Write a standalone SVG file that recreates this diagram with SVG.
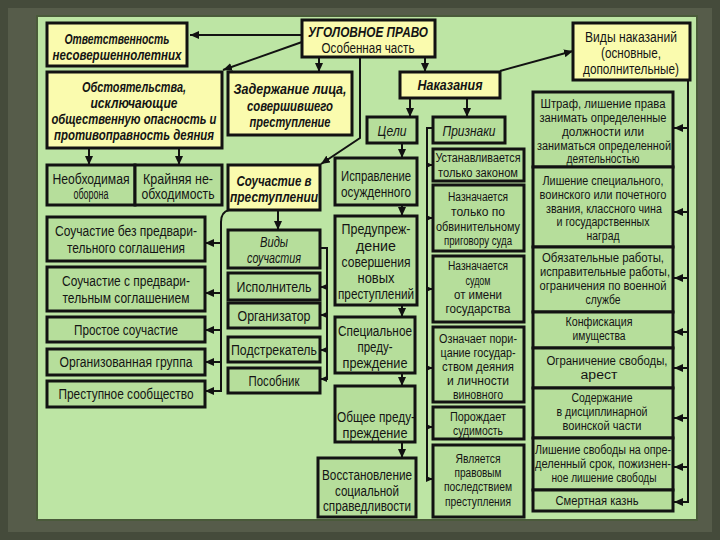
<svg xmlns="http://www.w3.org/2000/svg" width="720" height="540" viewBox="0 0 720 540">
<defs>
<marker id="ah" markerWidth="9" markerHeight="8" refX="9" refY="4" orient="auto" markerUnits="userSpaceOnUse"><path d="M0,0 L9,4 L0,8 z" fill="#111"/></marker>
<marker id="as" markerWidth="7" markerHeight="6" refX="7" refY="3" orient="auto" markerUnits="userSpaceOnUse"><path d="M0,0 L7,3 L0,6 z" fill="#111"/></marker>
<style>
.bg{fill:#565c4a}
.frame{fill:none;stroke:#454b3b;stroke-width:8}
.panel{fill:#bde5a4;stroke:#4a5a3a;stroke-width:2}
.y{fill:#fafbae;stroke:#121212;stroke-width:3}
.g{fill:#b6de9b;stroke:#121212;stroke-width:3}
text{font-family:"Liberation Sans",Arial,sans-serif;font-size:14px;fill:#141414;text-anchor:middle}
.b{font-weight:bold;font-style:italic;font-size:14px}
.i{font-style:italic;font-size:15px}
.s{font-size:12px}
.c{fill:none;stroke:#121212;stroke-width:2}
.ca{marker-end:url(#ah)}
.cs{marker-end:url(#as)}
</style>
</defs>
<rect class="bg" x="0" y="0" width="720" height="540"/>
<rect class="frame" x="4" y="4" width="712" height="532"/>
<rect class="panel" x="37" y="16" width="660" height="504"/>

<g id="connectors">
<path class="c ca" d="M302,35 L190,35"/>
<path class="c ca" d="M302,42 L223,70"/>
<path class="c ca" d="M319,57 L319,72"/>
<path class="c ca" d="M360,57 L360,138 L321,164"/>
<path class="c ca" d="M425,57 L425,72"/>
<path class="c ca" d="M500,71 L573,51"/>
<path class="c ca" d="M410,98 L410,117"/>
<path class="c ca" d="M467,98 L467,117"/>
<path class="c ca" d="M402,143 L402,158"/>
<path class="c ca" d="M402,205 L402,216"/>
<path class="c ca" d="M402,305 L402,317"/>
<path class="c ca" d="M402,373 L402,386"/>
<path class="c ca" d="M402,442 L402,458"/>
<path class="c ca" d="M89,148 L89,165"/>
<path class="c ca" d="M179,148 L179,165"/>
<path class="c ca" d="M278,210 L278,230"/>
<path class="c" d="M433,128 L427,128 L427,479"/>
<path class="c cs" d="M427,165 L433,165"/>
<path class="c cs" d="M427,218 L433,218"/>
<path class="c cs" d="M427,289 L433,289"/>
<path class="c cs" d="M427,368 L433,368"/>
<path class="c cs" d="M427,427 L433,427"/>
<path class="c cs" d="M426,479 L433,479"/>
<path class="c" d="M229,210 Q221,212 221,222 L221,391"/>
<path class="c ca" d="M221,243 L205,243"/>
<path class="c ca" d="M221,293 L205,293"/>
<path class="c ca" d="M221,330 L205,330"/>
<path class="c ca" d="M221,362 L205,362"/>
<path class="c ca" d="M222,391 L205,391"/>
<path class="c" d="M320,248 L327,248 L327,379"/>
<path class="c cs" d="M327,287 L320,287"/>
<path class="c cs" d="M327,315 L320,315"/>
<path class="c cs" d="M327,350 L320,350"/>
<path class="c cs" d="M328,379 L320,379"/>
<path class="c" d="M688,80 L688,502"/>
<path class="c ca" d="M688,128 L674,128"/>
<path class="c ca" d="M688,212 L674,212"/>
<path class="c ca" d="M688,278 L674,278"/>
<path class="c ca" d="M688,332 L674,332"/>
<path class="c ca" d="M688,368 L674,368"/>
<path class="c ca" d="M688,418 L674,418"/>
<path class="c ca" d="M688,467 L674,467"/>
<path class="c ca" d="M689,502 L674,502"/>
</g>

<g id="n-otv"><rect class="y" x="47" y="23" width="140" height="43"/>
<text class="b" x="117" y="44" textLength="105" lengthAdjust="spacingAndGlyphs">Ответственность</text>
<text class="b" x="117" y="60" textLength="129" lengthAdjust="spacingAndGlyphs">несовершеннолетних</text></g>

<g id="n-ugol"><rect class="y" x="302" y="20" width="133" height="37"/>
<text class="b" x="368" y="37" textLength="120" lengthAdjust="spacingAndGlyphs">УГОЛОВНОЕ ПРАВО</text>
<text x="368" y="53" textLength="93" lengthAdjust="spacingAndGlyphs">Особенная часть</text></g>

<g id="n-vidy-nak"><rect class="y" x="573" y="23" width="117" height="57"/>
<text x="631" y="42" textLength="92" lengthAdjust="spacingAndGlyphs">Виды наказаний</text>
<text x="631" y="58" textLength="60" lengthAdjust="spacingAndGlyphs">(основные,</text>
<text x="631" y="74" textLength="96" lengthAdjust="spacingAndGlyphs">дополнительные)</text></g>

<g id="n-obst"><rect class="y" x="47" y="72" width="175" height="76"/>
<text class="b" x="134" y="92" textLength="104" lengthAdjust="spacingAndGlyphs">Обстоятельства,</text>
<text class="b" x="134" y="108" textLength="87" lengthAdjust="spacingAndGlyphs">исключающие</text>
<text class="b" x="134" y="124" textLength="165" lengthAdjust="spacingAndGlyphs">общественную опасность и</text>
<text class="b" x="134" y="140" textLength="160" lengthAdjust="spacingAndGlyphs">противоправность деяния</text></g>

<g id="n-zad"><rect class="y" x="228" y="72" width="124" height="63"/>
<text class="b" x="290" y="94" textLength="113" lengthAdjust="spacingAndGlyphs">Задержание лица,</text>
<text class="b" x="290" y="111" textLength="86" lengthAdjust="spacingAndGlyphs">совершившего</text>
<text class="b" x="290" y="127" textLength="81" lengthAdjust="spacingAndGlyphs">преступление</text></g>

<g id="n-nak"><rect class="y" x="400" y="72" width="100" height="26"/>
<text class="b" x="450" y="90" textLength="65" lengthAdjust="spacingAndGlyphs">Наказания</text></g>

<g id="n-celi"><rect class="g" x="367" y="117" width="50" height="26"/>
<text class="i" x="392" y="136" textLength="29" lengthAdjust="spacingAndGlyphs">Цели</text></g>

<g id="n-prizn"><rect class="g" x="433" y="117" width="72" height="26"/>
<text class="i" x="469" y="136" textLength="53" lengthAdjust="spacingAndGlyphs">Признаки</text></g>

<g id="n-neobh"><rect class="g" x="47" y="165" width="88" height="40"/>
<text x="91" y="184" textLength="77" lengthAdjust="spacingAndGlyphs">Необходимая</text>
<text x="91" y="199" textLength="35" lengthAdjust="spacingAndGlyphs">оборона</text></g>

<g id="n-krain"><rect class="g" x="135" y="165" width="87" height="40"/>
<text x="178" y="184" textLength="70" lengthAdjust="spacingAndGlyphs">Крайняя не-</text>
<text x="178" y="199" textLength="73" lengthAdjust="spacingAndGlyphs">обходимость</text></g>

<g id="n-souch"><rect class="y" x="228" y="165" width="92" height="45"/>
<text class="b" x="274" y="186" textLength="75" lengthAdjust="spacingAndGlyphs">Соучастие в</text>
<text class="b" x="274" y="202" textLength="88" lengthAdjust="spacingAndGlyphs">преступлении</text></g>

<g id="n-ispr"><rect class="g" x="335" y="158" width="82" height="47"/>
<text x="376" y="181" textLength="70" lengthAdjust="spacingAndGlyphs">Исправление</text>
<text x="376" y="197" textLength="70" lengthAdjust="spacingAndGlyphs">осужденного</text></g>

<g id="n-preduprezh"><rect class="g" x="335" y="216" width="82" height="89"/>
<text x="376" y="234" textLength="69" lengthAdjust="spacingAndGlyphs">Предупреж-</text>
<text x="376" y="251" textLength="40" lengthAdjust="spacingAndGlyphs">дение</text>
<text x="376" y="267" textLength="69" lengthAdjust="spacingAndGlyphs">совершения</text>
<text x="376" y="283" textLength="37" lengthAdjust="spacingAndGlyphs">новых</text>
<text x="376" y="299" textLength="76" lengthAdjust="spacingAndGlyphs">преступлений</text></g>

<g id="n-vidy-souch"><rect class="g" x="228" y="230" width="92" height="38"/>
<text class="i" x="274" y="247" textLength="28" lengthAdjust="spacingAndGlyphs">Виды</text>
<text class="i" x="274" y="263" textLength="54" lengthAdjust="spacingAndGlyphs">соучастия</text></g>

<g id="n-ispoln"><rect class="g" x="228" y="273" width="92" height="27"/>
<text x="274" y="292" textLength="75" lengthAdjust="spacingAndGlyphs">Исполнитель</text></g>

<g id="n-organiz"><rect class="g" x="228" y="303" width="92" height="25"/>
<text x="274" y="321" textLength="73" lengthAdjust="spacingAndGlyphs">Организатор</text></g>

<g id="n-podstr"><rect class="g" x="228" y="337" width="92" height="25"/>
<text x="274" y="355" textLength="86" lengthAdjust="spacingAndGlyphs">Подстрекатель</text></g>

<g id="n-posob"><rect class="g" x="228" y="368" width="92" height="25"/>
<text x="274" y="386" textLength="51" lengthAdjust="spacingAndGlyphs">Пособник</text></g>

<g id="n-bez"><rect class="g" x="47" y="217" width="158" height="44"/>
<text x="126" y="236" textLength="142" lengthAdjust="spacingAndGlyphs">Соучастие без предвари-</text>
<text x="126" y="253" textLength="118" lengthAdjust="spacingAndGlyphs">тельного соглашения</text></g>

<g id="n-s"><rect class="g" x="47" y="267" width="158" height="44"/>
<text x="126" y="286" textLength="128" lengthAdjust="spacingAndGlyphs">Соучастие с предвари-</text>
<text x="126" y="303" textLength="127" lengthAdjust="spacingAndGlyphs">тельным соглашением</text></g>

<g id="n-prost"><rect class="g" x="47" y="317" width="158" height="25"/>
<text x="126" y="335" textLength="104" lengthAdjust="spacingAndGlyphs">Простое соучастие</text></g>

<g id="n-org-gr"><rect class="g" x="47" y="349" width="158" height="26"/>
<text x="126" y="367" textLength="133" lengthAdjust="spacingAndGlyphs">Организованная группа</text></g>

<g id="n-prest-soob"><rect class="g" x="47" y="381" width="158" height="26"/>
<text x="126" y="399" textLength="135" lengthAdjust="spacingAndGlyphs">Преступное сообщество</text></g>

<g id="n-spec"><rect class="g" x="335" y="317" width="80" height="56"/>
<text x="375" y="336" textLength="74" lengthAdjust="spacingAndGlyphs">Специальное</text>
<text x="375" y="352" textLength="35" lengthAdjust="spacingAndGlyphs">преду-</text>
<text x="375" y="368" textLength="65" lengthAdjust="spacingAndGlyphs">преждение</text></g>

<g id="n-obsh"><rect class="g" x="335" y="386" width="80" height="56"/>
<text x="376" y="422" textLength="78" lengthAdjust="spacingAndGlyphs">Общее преду-</text>
<text x="375" y="438" textLength="65" lengthAdjust="spacingAndGlyphs">преждение</text></g>

<g id="n-vosst"><rect class="g" x="318" y="458" width="98" height="59"/>
<text x="367" y="480" textLength="90" lengthAdjust="spacingAndGlyphs">Восстановление</text>
<text x="367" y="496" textLength="64" lengthAdjust="spacingAndGlyphs">социальной</text>
<text x="367" y="511" textLength="88" lengthAdjust="spacingAndGlyphs">справедливости</text></g>

<g id="n-ustan"><rect class="g" x="433" y="149" width="91" height="32"/>
<text class="s" x="478" y="162" textLength="85" lengthAdjust="spacingAndGlyphs">Устанавливается</text>
<text class="s" x="478" y="177" textLength="80" lengthAdjust="spacingAndGlyphs">только законом</text></g>

<g id="n-nazn1"><rect class="g" x="433" y="185" width="91" height="66"/>
<text class="s" x="478" y="201" textLength="60" lengthAdjust="spacingAndGlyphs">Назначается</text>
<text class="s" x="478" y="216" textLength="54" lengthAdjust="spacingAndGlyphs">только по</text>
<text class="s" x="478" y="231" textLength="84" lengthAdjust="spacingAndGlyphs">обвинительному</text>
<text class="s" x="478" y="245" textLength="68" lengthAdjust="spacingAndGlyphs">приговору суда</text></g>

<g id="n-nazn2"><rect class="g" x="433" y="256" width="91" height="66"/>
<text class="s" x="478" y="270" textLength="60" lengthAdjust="spacingAndGlyphs">Назначается</text>
<text class="s" x="478" y="285" textLength="25" lengthAdjust="spacingAndGlyphs">судом</text>
<text class="s" x="478" y="299" textLength="48" lengthAdjust="spacingAndGlyphs">от имени</text>
<text class="s" x="478" y="313" textLength="65" lengthAdjust="spacingAndGlyphs">государства</text></g>

<g id="n-oznach"><rect class="g" x="433" y="327" width="91" height="75"/>
<text class="s" x="478" y="343" textLength="78" lengthAdjust="spacingAndGlyphs">Означает пори-</text>
<text class="s" x="478" y="357" textLength="75" lengthAdjust="spacingAndGlyphs">цание государ-</text>
<text class="s" x="478" y="371" textLength="72" lengthAdjust="spacingAndGlyphs">ством деяния</text>
<text class="s" x="478" y="385" textLength="62" lengthAdjust="spacingAndGlyphs">и личности</text>
<text class="s" x="478" y="399" textLength="50" lengthAdjust="spacingAndGlyphs">виновного</text></g>

<g id="n-porozh"><rect class="g" x="433" y="407" width="91" height="32"/>
<text class="s" x="478" y="421" textLength="56" lengthAdjust="spacingAndGlyphs">Порождает</text>
<text class="s" x="478" y="435" textLength="50" lengthAdjust="spacingAndGlyphs">судимость</text></g>

<g id="n-yavl"><rect class="g" x="433" y="445" width="91" height="72"/>
<text class="s" x="478" y="463" textLength="45" lengthAdjust="spacingAndGlyphs">Является</text>
<text class="s" x="478" y="477" textLength="47" lengthAdjust="spacingAndGlyphs">правовым</text>
<text class="s" x="478" y="491" textLength="68" lengthAdjust="spacingAndGlyphs">последствием</text>
<text class="s" x="478" y="506" textLength="66" lengthAdjust="spacingAndGlyphs">преступления</text></g>

<g id="n-shtraf"><rect class="g" x="533" y="92" width="140" height="75"/>
<text class="s" x="603" y="108" textLength="125" lengthAdjust="spacingAndGlyphs">Штраф, лишение права</text>
<text class="s" x="603" y="122" textLength="127" lengthAdjust="spacingAndGlyphs">занимать определенные</text>
<text class="s" x="603" y="136" textLength="82" lengthAdjust="spacingAndGlyphs">должности или</text>
<text class="s" x="604" y="150" textLength="134" lengthAdjust="spacingAndGlyphs">заниматься определенной</text>
<text class="s" x="603" y="163" textLength="73" lengthAdjust="spacingAndGlyphs">деятельностью</text></g>

<g id="n-lish-spec"><rect class="g" x="533" y="167" width="140" height="80"/>
<text class="s" x="603" y="185" textLength="121" lengthAdjust="spacingAndGlyphs">Лишение специального,</text>
<text class="s" x="603" y="199" textLength="127" lengthAdjust="spacingAndGlyphs">воинского или почетного</text>
<text class="s" x="604" y="213" textLength="116" lengthAdjust="spacingAndGlyphs">звания, классного чина</text>
<text class="s" x="603" y="226" textLength="93" lengthAdjust="spacingAndGlyphs">и государственных</text>
<text class="s" x="603" y="240" textLength="33" lengthAdjust="spacingAndGlyphs">наград</text></g>

<g id="n-obyaz"><rect class="g" x="533" y="247" width="140" height="65"/>
<text class="s" x="603" y="262" textLength="122" lengthAdjust="spacingAndGlyphs">Обязательные работы,</text>
<text class="s" x="605" y="276" textLength="130" lengthAdjust="spacingAndGlyphs">исправительные работы,</text>
<text class="s" x="603" y="290" textLength="127" lengthAdjust="spacingAndGlyphs">ограничения по военной</text>
<text class="s" x="603" y="304" textLength="35" lengthAdjust="spacingAndGlyphs">службе</text></g>

<g id="n-konf"><rect class="g" x="533" y="312" width="140" height="36"/>
<text class="s" x="599" y="326" textLength="67" lengthAdjust="spacingAndGlyphs">Конфискация</text>
<text class="s" x="599" y="340" textLength="53" lengthAdjust="spacingAndGlyphs">имущества</text></g>

<g id="n-ogr"><rect class="g" x="533" y="348" width="140" height="40"/>
<text class="s" x="607" y="365" textLength="121" lengthAdjust="spacingAndGlyphs">Ограничение свободы,</text>
<text class="s" x="599" y="379" textLength="37" lengthAdjust="spacingAndGlyphs">арест</text></g>

<g id="n-soderzh"><rect class="g" x="533" y="388" width="140" height="50"/>
<text class="s" x="602" y="402" textLength="61" lengthAdjust="spacingAndGlyphs">Содержание</text>
<text class="s" x="602" y="416" textLength="91" lengthAdjust="spacingAndGlyphs">в дисциплинарной</text>
<text class="s" x="602" y="430" textLength="79" lengthAdjust="spacingAndGlyphs">воинской части</text></g>

<g id="n-lish-svob"><rect class="g" x="533" y="438" width="140" height="52"/>
<text class="s" x="603" y="454" textLength="136" lengthAdjust="spacingAndGlyphs">Лишение свободы на опре-</text>
<text class="s" x="603" y="468" textLength="136" lengthAdjust="spacingAndGlyphs">деленный срок, пожизнен-</text>
<text class="s" x="604" y="482" textLength="105" lengthAdjust="spacingAndGlyphs">ное лишение свободы</text></g>

<g id="n-smert"><rect class="g" x="533" y="490" width="140" height="21"/>
<text class="s" x="597" y="505" textLength="83" lengthAdjust="spacingAndGlyphs">Смертная казнь</text></g>
</svg>
